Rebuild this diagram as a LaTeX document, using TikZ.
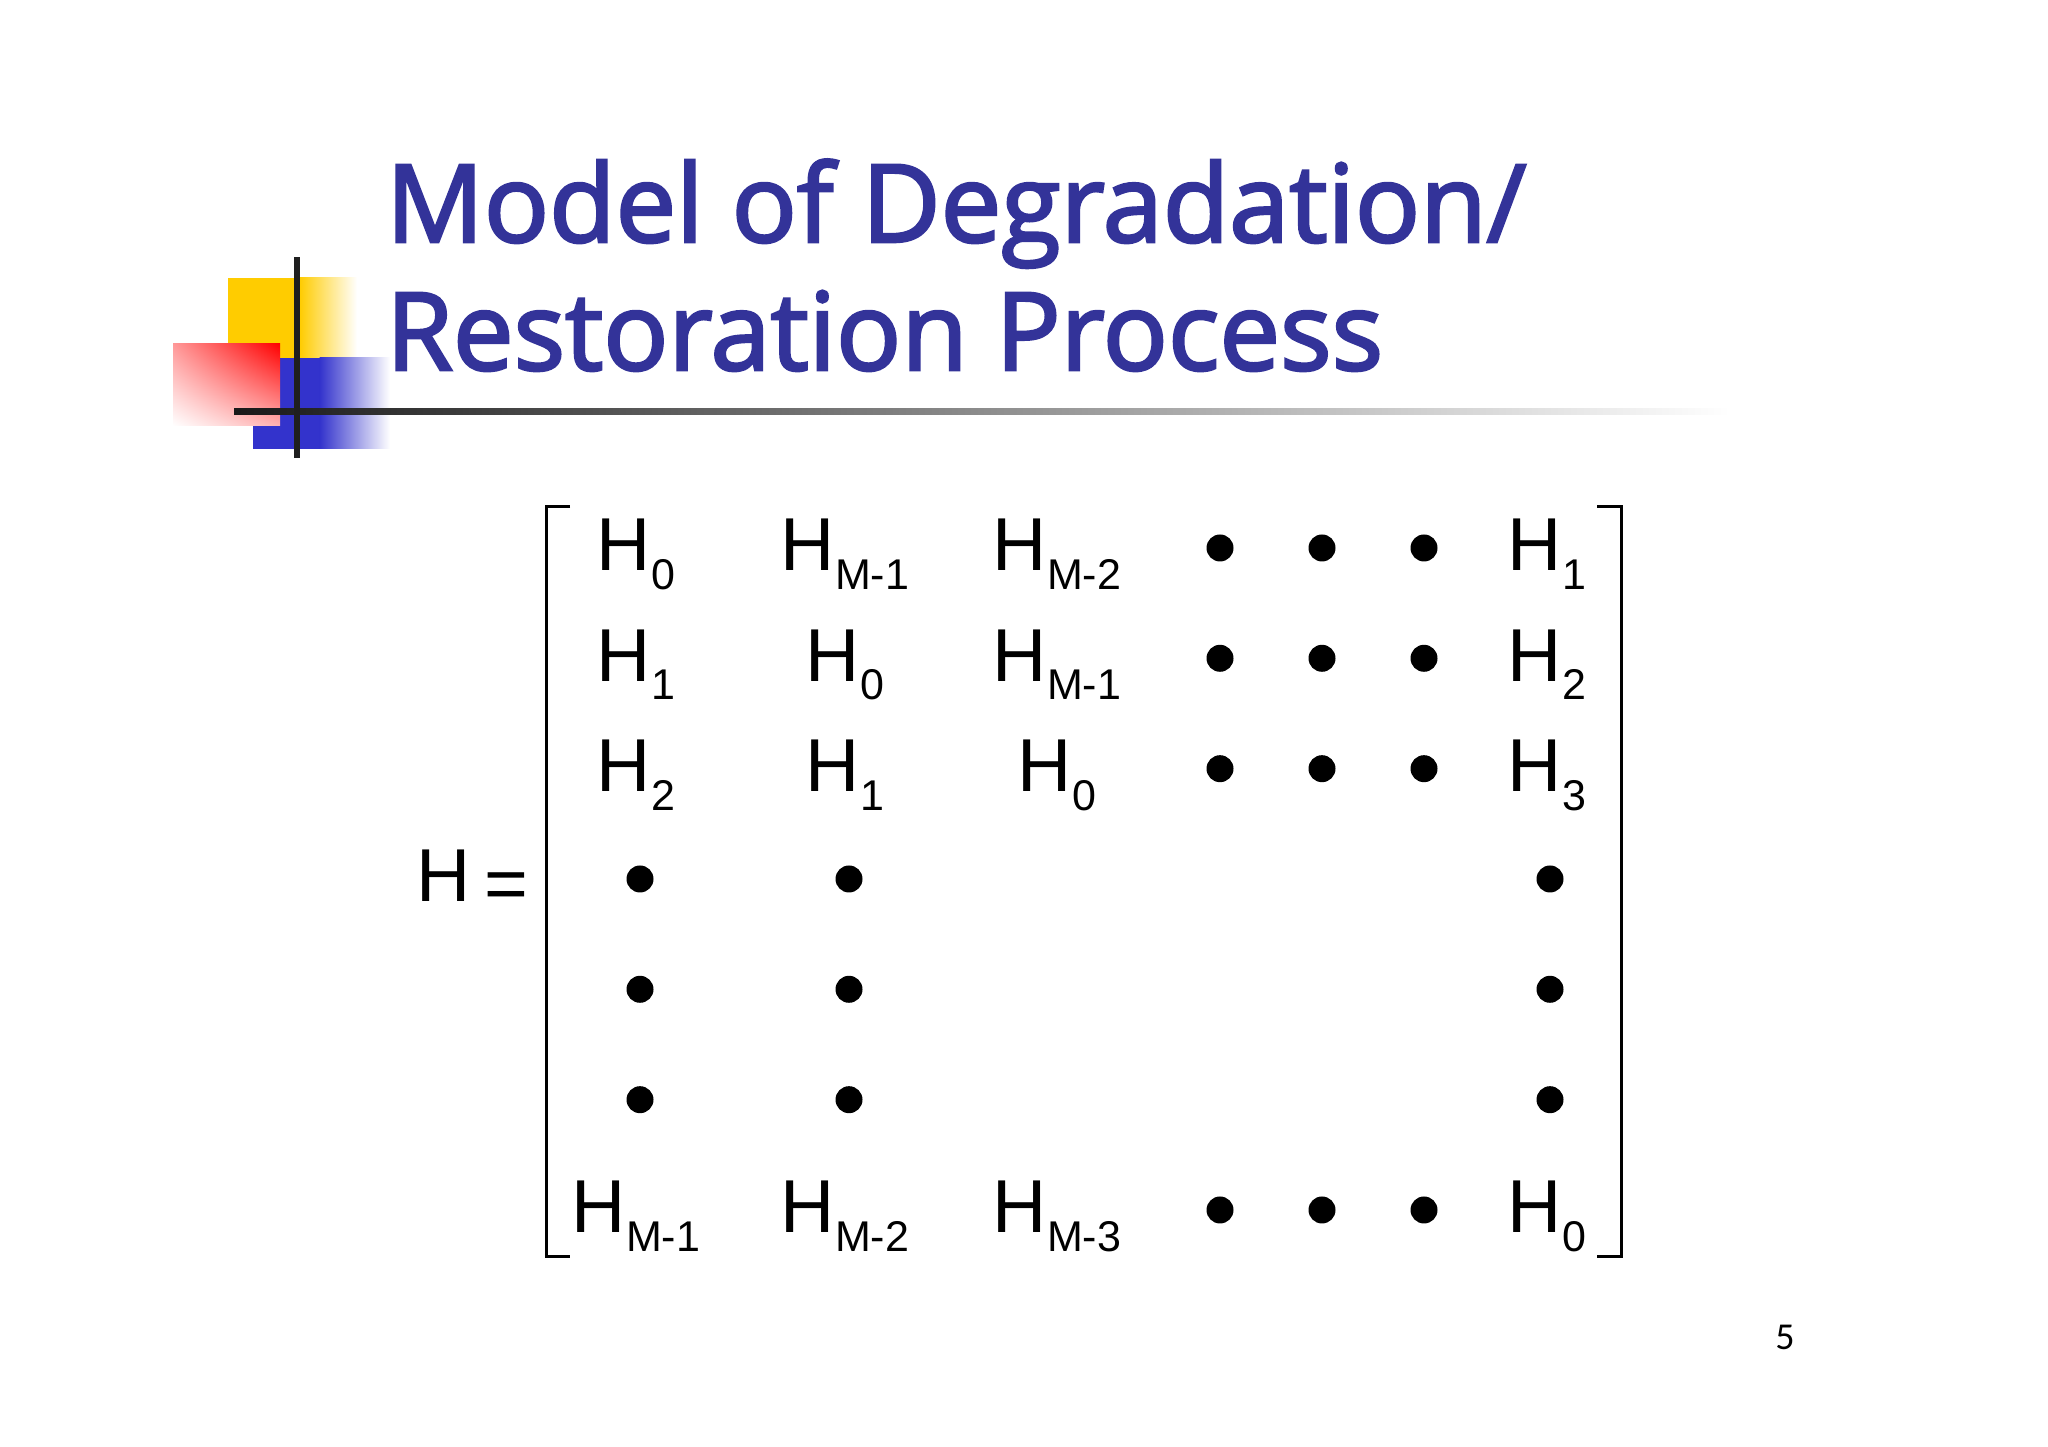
\documentclass[tikz,border=0pt]{standalone}
\usepackage{fontspec}
\setmainfont{Liberation Sans}
\newfontfamily\titlefont[FakeBold=2.5]{Open Sans}
\newfontfamily\numfont{Carlito}
\usetikzlibrary{shadings}
\definecolor{titleblue}{RGB}{51,51,153}
\definecolor{logoyellow}{RGB}{255,204,0}
\definecolor{logoblue}{RGB}{51,51,204}
\newcommand{\Hsub}[1]{H\raisebox{-18.5pt}{\fontsize{43}{43}\selectfont #1}}
\begin{document}
\begin{tikzpicture}[x=1pt,y=1pt,
  entry/.style={inner sep=0pt, anchor=base, font=\fontsize{75}{75}\selectfont},
  dotnode/.style={circle, fill=black, inner sep=0pt, minimum size=27pt},
  bracketline/.style={line width=3pt, line join=miter},
  titletext/.style={inner sep=0pt, anchor=base west, text=titleblue, font=\titlefont\fontsize{108}{108}\selectfont}]
\useasboundingbox (0,0) rectangle (2048,1447);
\fill[white] (0,0) rectangle (2048,1447);
% logo
\fill[logoyellow] (228,1089) rectangle (300,1169);
\shade[left color=logoyellow, right color=white] (299.5,1089) rectangle (357,1169);
\fill[logoblue] (253,998) rectangle (320,1089);
\shade[left color=logoblue, right color=white] (319.5,998) rectangle (390,1089);
\shade[upper left=red!40, upper right=red, lower left=white, lower right=red!30] (173,1021) rectangle (280,1103);
\shade[left color=black!90, right color=white] (234,1032) rectangle (1730,1038);
\fill[black!88] (294,989) rectangle (300,1190);
% title
\node[titletext] (t1) at (386,1205) {\resizebox{1140pt}{\height}{Model of Degradation/}};
\node[titletext] (t2) at (386,1077) {\resizebox{997pt}{\height}{Restoration Process}};
% H =
\node[entry] (hl) at (444,545) {H};
\node[entry] (eq) at (506,537) {=};
% row 1
\node[entry] (m11) at (636,876) {\Hsub{0}};
\node[entry] (m12) at (845,876) {\Hsub{M-1}};
\node[entry] (m13) at (1057,876) {\Hsub{M-2}};
\node[dotnode] (m14) at (1220,899) {};
\node[dotnode] (m15) at (1322,899) {};
\node[dotnode] (m16) at (1424,899) {};
\node[entry] (m17) at (1547,876) {\Hsub{1}};
% row 2
\node[entry] (m21) at (636,765.7) {\Hsub{1}};
\node[entry] (m22) at (845,765.7) {\Hsub{0}};
\node[entry] (m23) at (1057,765.7) {\Hsub{M-1}};
\node[dotnode] (m24) at (1220,788.7) {};
\node[dotnode] (m25) at (1322,788.7) {};
\node[dotnode] (m26) at (1424,788.7) {};
\node[entry] (m27) at (1547,765.7) {\Hsub{2}};
% row 3
\node[entry] (m31) at (636,655.3) {\Hsub{2}};
\node[entry] (m32) at (845,655.3) {\Hsub{1}};
\node[entry] (m33) at (1057,655.3) {\Hsub{0}};
\node[dotnode] (m34) at (1220,678.3) {};
\node[dotnode] (m35) at (1322,678.3) {};
\node[dotnode] (m36) at (1424,678.3) {};
\node[entry] (m37) at (1547,655.3) {\Hsub{3}};
% rows 4-6
\node[dotnode] (m41) at (640,568) {};
\node[dotnode] (m42) at (849,568) {};
\node[dotnode] (m47) at (1550,568) {};
\node[dotnode] (m51) at (640,457.7) {};
\node[dotnode] (m52) at (849,457.7) {};
\node[dotnode] (m57) at (1550,457.7) {};
\node[dotnode] (m61) at (640,347.3) {};
\node[dotnode] (m62) at (849,347.3) {};
\node[dotnode] (m67) at (1550,347.3) {};
% row 7
\node[entry] (m71) at (636,214) {\Hsub{M-1}};
\node[entry] (m72) at (845,214) {\Hsub{M-2}};
\node[entry] (m73) at (1057,214) {\Hsub{M-3}};
\node[dotnode] (m74) at (1220,237) {};
\node[dotnode] (m75) at (1322,237) {};
\node[dotnode] (m76) at (1424,237) {};
\node[entry] (m77) at (1547,214) {\Hsub{0}};
% brackets
\coordinate (lbt) at (570,940);
\coordinate (lbb) at (570,190);
\coordinate (rbt) at (1597,940);
\coordinate (rbb) at (1597,190);
\draw[bracketline] (lbt) -- ++(-24,0) |- (lbb);
\draw[bracketline] (rbt) -- ++(24,0) |- (rbb);
% page number
\node[inner sep=0pt, anchor=base, font=\numfont\fontsize{38}{38}\selectfont] (pg) at (1785,97) {5};
\end{tikzpicture}
\end{document}
